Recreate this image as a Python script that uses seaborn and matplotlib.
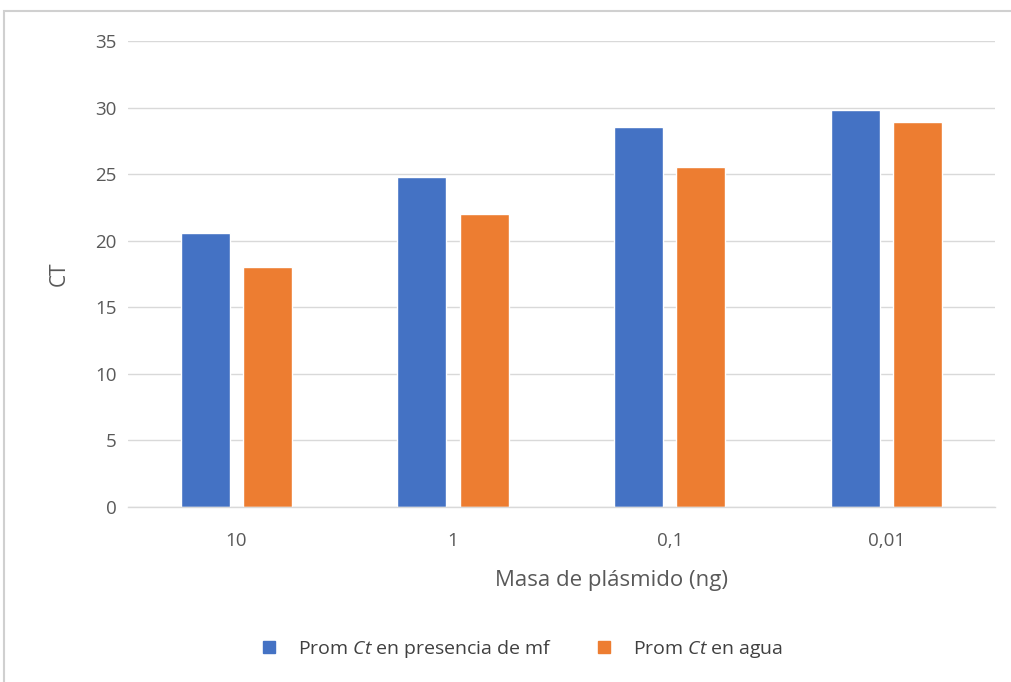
import matplotlib
matplotlib.use("Agg")
import matplotlib.pyplot as plt
import seaborn as sns
import pandas as pd
from matplotlib.patches import Rectangle
from matplotlib.lines import Line2D

# Plasmid masses (ng) and mean Ct values for each condition
masas = ["10", "1", "0,1", "0,01"]
ct_mf = [20.6, 24.8, 28.5, 29.8]
ct_agua = [18.0, 22.0, 25.5, 28.9]
series = ["Prom $\\mathit{Ct}$ en presencia de mf", "Prom $\\mathit{Ct}$ en agua"]
yticks = [0, 5, 10, 15, 20, 25, 30, 35]

sns.set_theme(style="white")
plt.rcParams["font.family"] = ["Open Sans", "DejaVu Sans"]
plt.rcParams["mathtext.fontset"] = "custom"
plt.rcParams["mathtext.it"] = "Open Sans:italic"
plt.rcParams["mathtext.rm"] = "Open Sans"

df = pd.DataFrame({
    "masa": masas * 2,
    "ct": ct_mf + ct_agua,
    "serie": [series[0]] * len(masas) + [series[1]] * len(masas),
})

colors = ["#4472C4", "#ED7D31"]
gray_text = "#595959"

fig = plt.figure(figsize=(10.12, 6.82), dpi=100)
ax = fig.add_axes([0.1265, 0.2566, 0.8565, 0.6834])

sns.barplot(data=df, x="masa", y="ct", hue="serie", order=masas,
            hue_order=series, palette=colors, width=0.576, gap=0.215,
            saturation=1, ax=ax, legend=False)

ax.set_ylim(0, 35)
ax.set_xlim(-0.5, len(masas) - 0.5)
ax.set_yticks(yticks)
ax.yaxis.grid(True, color="#d9d9d9", linewidth=1)
ax.set_axisbelow(True)
for s in ["top", "right", "left"]:
    ax.spines[s].set_visible(False)
ax.spines["bottom"].set_color("#d9d9d9")
ax.spines["bottom"].set_linewidth(1)
ax.tick_params(axis="both", length=0, labelsize=13.5, colors=gray_text)
ax.tick_params(axis="y", pad=8)
ax.tick_params(axis="x", pad=18)

ax.set_xlabel("Masa de plásmido (ng)", fontsize=16, color=gray_text)
ax.xaxis.set_label_coords(0.558, -0.135)
ax.set_ylabel("CT", fontsize=15, color=gray_text)
ax.yaxis.set_label_coords(-0.067, 0.5)

handles = [Line2D([], [], marker="s", linestyle="none", markersize=9,
                  markerfacecolor=c, markeredgecolor=c) for c in colors]
fig.legend(handles, series, loc="center", bbox_to_anchor=(0.515, 0.048),
           ncol=2, frameon=False, fontsize=14, labelcolor="#404040",
           handletextpad=0.95, columnspacing=2.2, handlelength=1.0)

# Light chart-area border
fig.patches.append(Rectangle((4 / 1012, -0.05), 1.1, 1 - 11 / 682 + 0.05,
                             transform=fig.transFigure, fill=False,
                             edgecolor="#d0d0d0", linewidth=1.5))

fig.savefig("out.png", dpi=100, facecolor="white")
